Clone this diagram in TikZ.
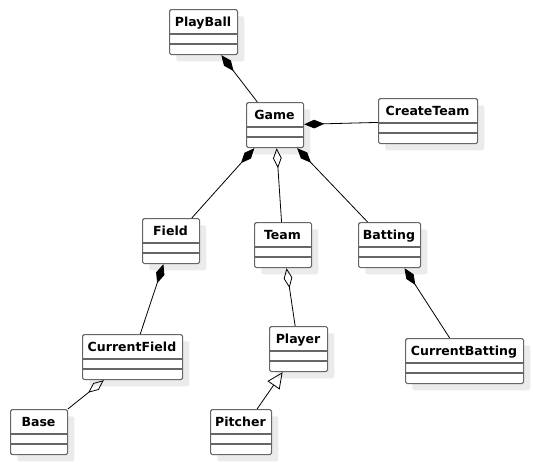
\documentclass[tikz,border=0pt]{standalone}
\usepackage{fontspec}
\setmainfont{DejaVu Sans}
\usepackage{tikz}
\usetikzlibrary{arrows.meta}
\usetikzlibrary{shadows}

\begin{document}
\begin{tikzpicture}[x=0.75pt,y=0.75pt,yscale=-1,xscale=1,
  classbox/.style={draw=black!60, line width=0.9pt, rounded corners=1.2pt, fill=white,
    minimum height=33.75pt, inner sep=0pt, anchor=north west,
    drop shadow={shadow xshift=5pt, shadow yshift=-5pt, fill=black!8, opacity=1}},
  classline/.style={draw=black!60, line width=0.9pt},
  classname/.style={font=\bfseries\fontsize{9.4}{11}\selectfont, inner sep=0pt, anchor=base},
  comp/.style={-{Diamond[length=15pt,width=6.5pt]}, line width=0.6pt},
  aggr/.style={-{Diamond[open,length=15pt,width=6.5pt]}, line width=0.6pt},
  inherit/.style={-{Triangle[open,length=12pt,width=11pt]}, line width=0.6pt}]
\useasboundingbox (0,0) rectangle (533,464);

% classes: name / left / top / width / text
\foreach \n/\x/\y/\w/\t in {playball/169/9/68/PlayBall, game/246/102/57/Game,
    createteam/378/98/99/CreateTeam, field/142/218/57/Field, team/254/222/57/Team,
    batting/358/222/62/Batting, currentfield/82/334/100/CurrentField, base/10/409/57/Base,
    player/269/326/58/Player, currentbatting/405/338/118/CurrentBatting, pitcher/210/409/61/Pitcher}{
  \node[classbox, minimum width=\w*0.75pt] (\n) at (\x,\y) {};
  \draw[classline] (\x,\y+25) -- (\x+\w,\y+25);
  \draw[classline] (\x,\y+35) -- (\x+\w,\y+35);
  \node[classname] (\n-name) at (\x+\w/2,\y+17.5) {\t};
}

% associations
\draw[comp] (game) -- (playball);
\draw[comp] (createteam) -- (game);
\draw[comp] (field) -- (game);
\draw[aggr] (team) -- (game);
\draw[comp] (batting) -- (game);
\draw[comp] (currentfield) -- (field);
\draw[aggr] (player) -- (team);
\draw[comp] (currentbatting) -- (batting);
\draw[aggr] (base) -- (currentfield);
\draw[inherit] (pitcher) -- (player);
\end{tikzpicture}
\end{document}
